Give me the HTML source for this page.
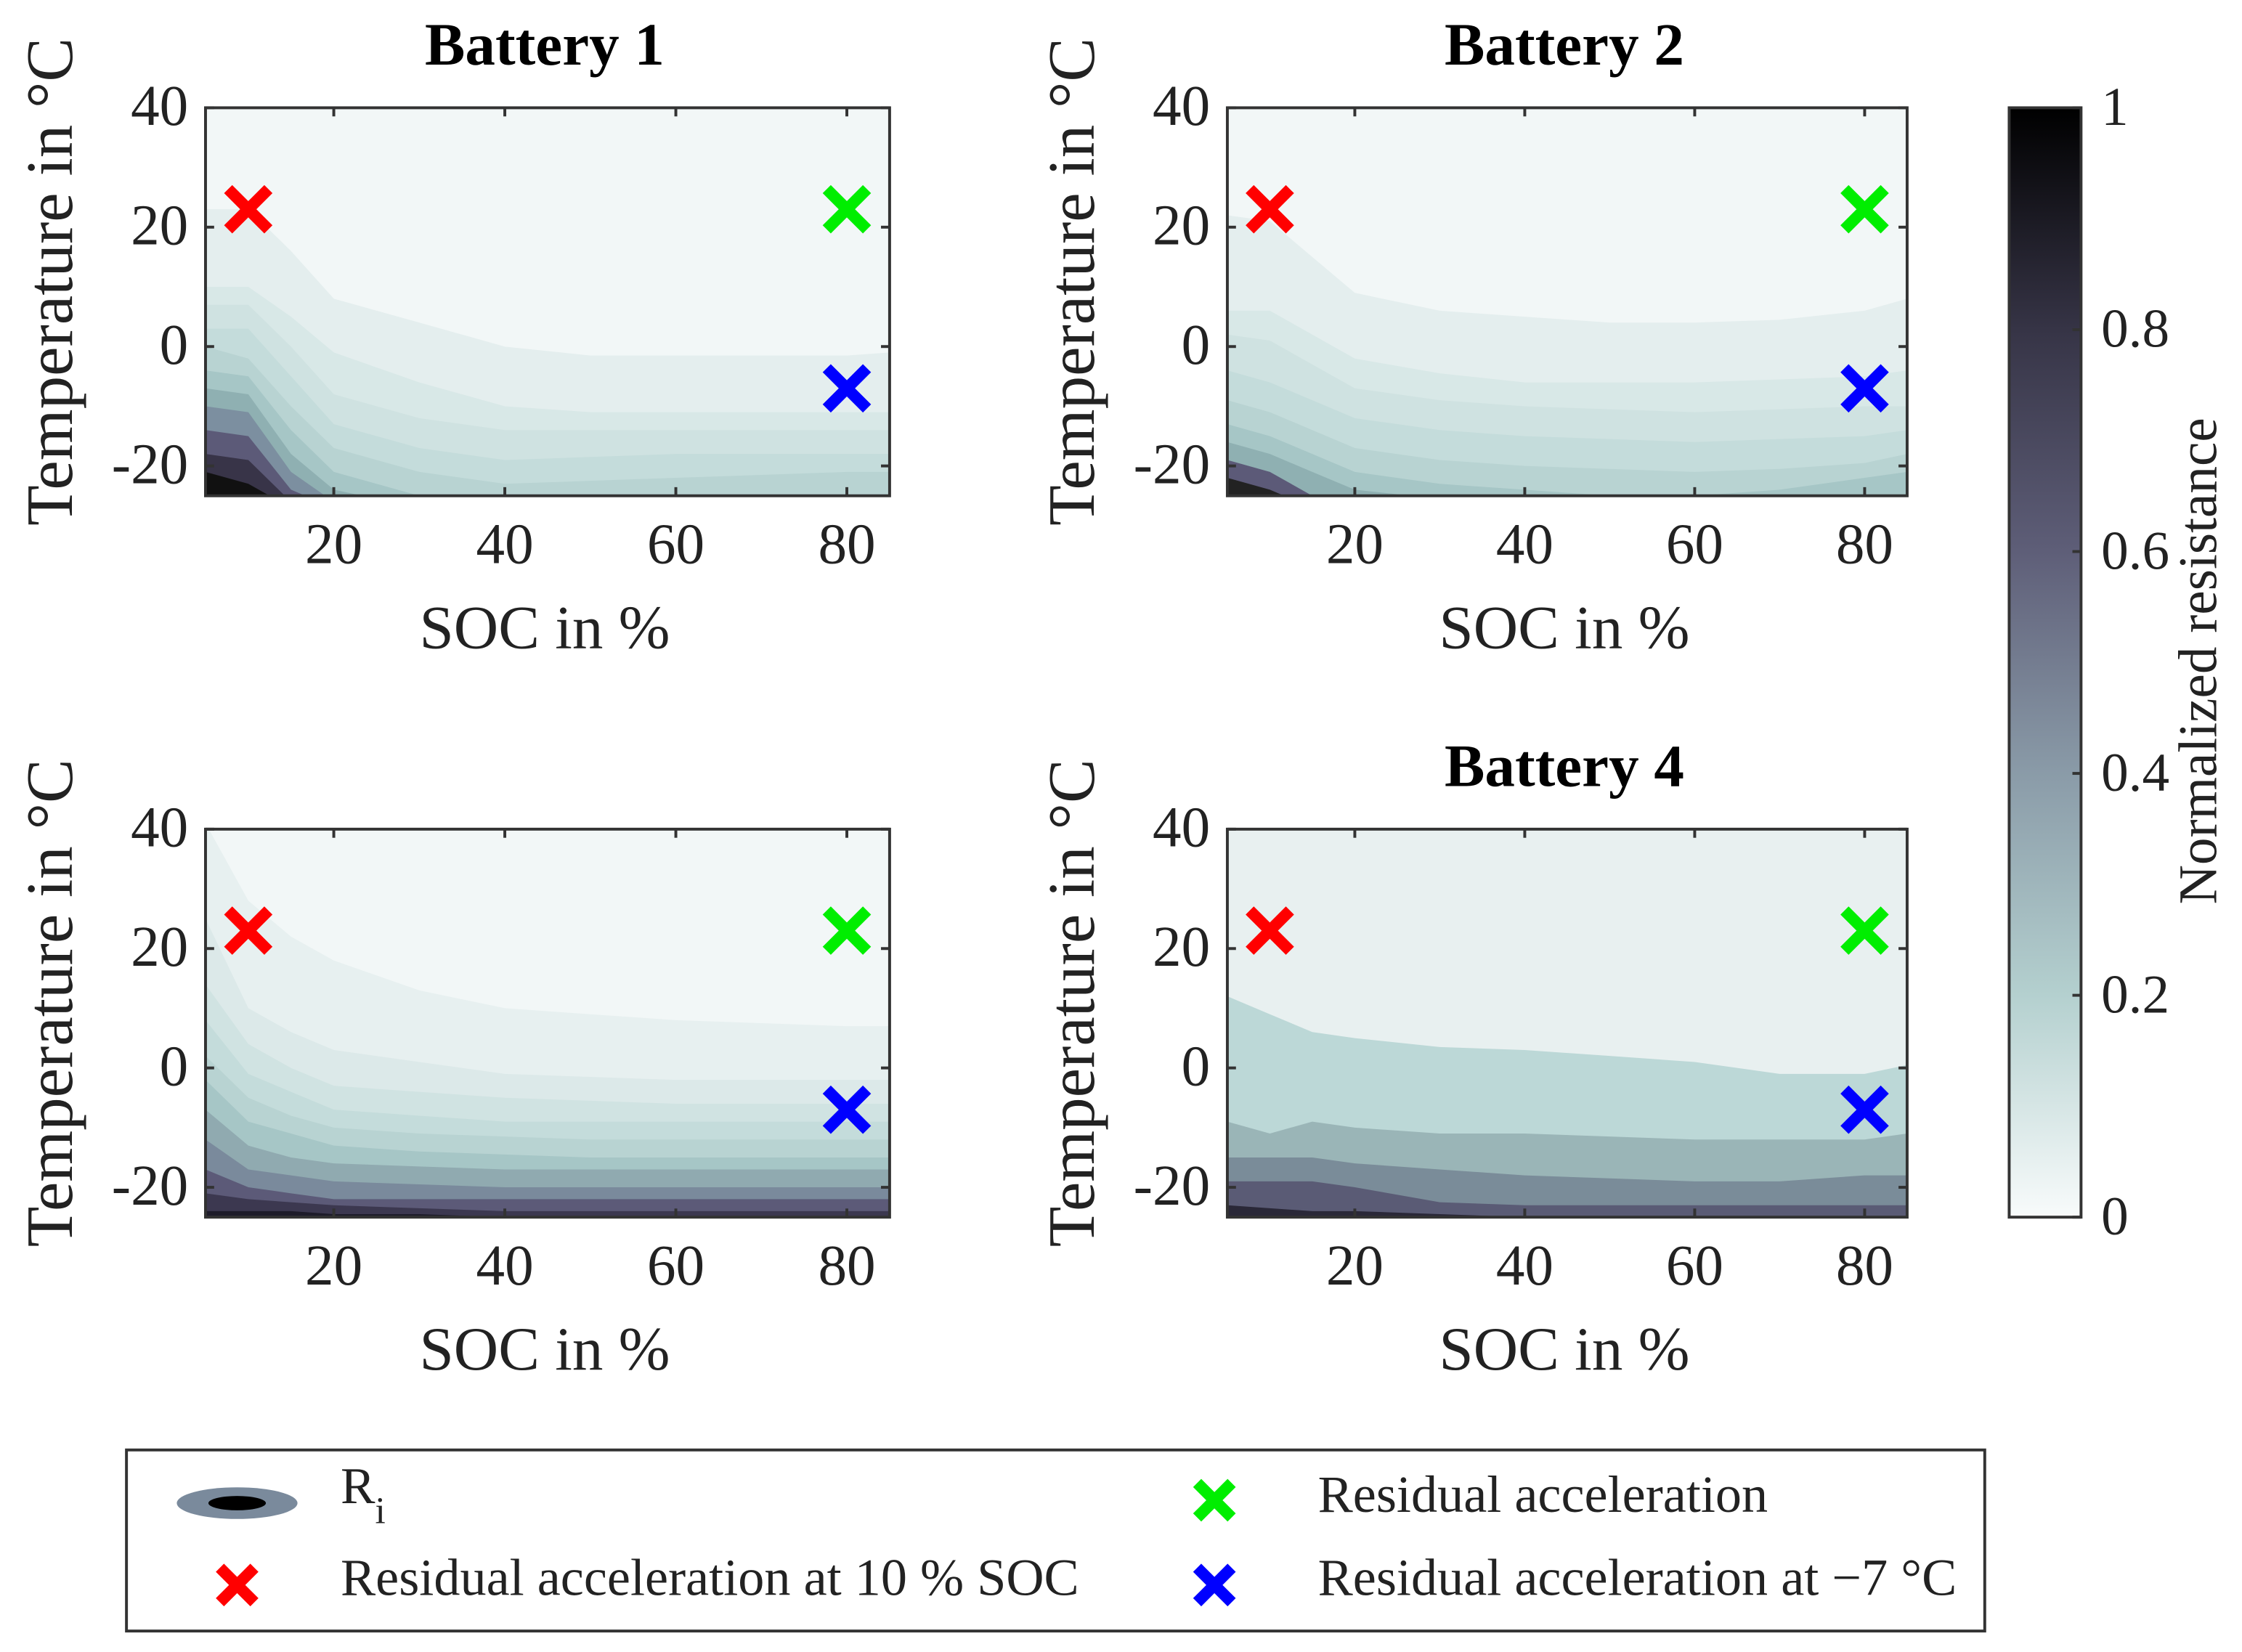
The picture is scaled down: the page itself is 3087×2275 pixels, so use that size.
<!DOCTYPE html>
<html><head><meta charset="utf-8"><style>
html,body{margin:0;padding:0;background:#fff}
svg{display:block}
text{font-family:"Liberation Serif",serif;fill:#222}
</style></head><body>
<svg id="fig" width="3087" height="2275" viewBox="0 0 1560 1149.6" preserveAspectRatio="none" xmlns="http://www.w3.org/2000/svg">
<defs>
<linearGradient id="cbg" x1="0" y1="1" x2="0" y2="0">
<stop offset="0" stop-color="#f8fbfb"/><stop offset="0.2" stop-color="#b4d0cf"/><stop offset="0.4" stop-color="#8a9ba8"/><stop offset="0.6" stop-color="#5e5e78"/><stop offset="0.8" stop-color="#363446"/><stop offset="1" stop-color="#000"/>
</linearGradient>
<clipPath id="c0"><rect x="143" y="75" width="476" height="270"/></clipPath>
<clipPath id="c1"><rect x="854" y="75" width="473" height="270"/></clipPath>
<clipPath id="c2"><rect x="143" y="577" width="476" height="270"/></clipPath>
<clipPath id="c3"><rect x="854" y="577" width="473" height="270"/></clipPath>
</defs>
</svg>
<script>
const socs=[5,10,15,20,30,40,50,60,70,80,85];
// band boundaries (temperature in °C at each SOC), fills painted top-down
const b1Bands=[[23,23,16,8,4,0,-1.5,-1.5,-1.5,-1.5,-1],[10,10,5,-1,-6,-10,-11,-11,-11,-11,-11],[7,7,0,-8,-12,-14,-14,-14,-14,-14,-14],[3,3,-5,-13,-17,-19,-18.5,-18,-18,-18,-18],[0,-2,-10,-17,-21,-23,-22.5,-22,-21.5,-21,-21],[-4,-5,-14,-21,-25,-26,-26,-26,-26,-26,-26],[-7,-8,-18,-24,-27,-27,-27,-27,-27,-27,-27],[-10,-11,-21,-26,-27,-27,-27,-27,-27,-27,-27],[-14,-15,-24,-27,-27,-27,-27,-27,-27,-27,-27],[-18,-19,-26,-27,-27,-27,-27,-27,-27,-27,-27],[-21,-23,-27,-27,-27,-27,-27,-27,-27,-27,-27]];
const b2Bands=[[22,21,15,9,6,5,4,4,4.5,6,8],[6,6,2,-2,-4.5,-6,-6,-6,-5.5,-5,-4],[2,1,-3,-7,-9,-10,-10.5,-11,-10.5,-10,-10],[-4,-6,-9,-12,-14,-15,-15.5,-16,-15.5,-15,-14],[-9,-11,-14,-17,-19,-20,-20.5,-21,-20.5,-19.5,-18],[-13,-15,-18,-21,-23,-24,-25,-25,-24,-22,-21],[-16,-18,-21,-24,-25.5,-27,-27,-27,-27,-27,-27],[-19,-21,-25,-27,-27,-27,-27,-27,-27,-27,-27],[-22,-24,-27,-27,-27,-27,-27,-27,-27,-27,-27]];
const b3Bands=[[41,28,22,18,13,10,9,8,7.5,7,7],[25,10,6,3,1,-1,-1.5,-2,-2,-2,-2],[14,4,0,-3,-4,-5,-5.5,-6,-6,-6,-6],[8,-1,-4,-7,-8,-9,-9,-9,-9,-9,-9],[2,-5,-8,-10,-11,-11.5,-12,-12,-12,-12,-12],[-2,-9,-11,-13,-14,-14.5,-15,-15,-15,-15,-15],[-7,-13,-15,-16,-16.5,-17,-17,-17,-17,-17,-17],[-12,-17,-18,-19,-19.5,-20,-20,-20,-20,-20,-20],[-17,-20,-21,-22,-22,-22,-22,-22,-22,-22,-22],[-21,-22,-22.5,-23,-23.5,-24,-24,-24,-24,-24,-24],[-24,-24,-24,-24.5,-24.5,-25,-25,-25,-25,-25,-25]];
const b4Bands=[[12,9,6,5,3.5,3,2,1,-1,-1,0.5],[-9,-11,-9,-10,-11,-11,-11.5,-12,-12,-12,-11],[-15,-15,-15,-16,-17,-18,-18.5,-19,-19,-18,-18],[-19,-19,-19,-20,-22.5,-23,-23,-23,-23,-23,-23],[-23,-23.5,-24,-24,-24.5,-25,-25,-25,-25,-25,-25]];
const markerSoc=[10,80,80];
const markerTemp=[23,23,-7];
const xTicks=[20,40,60,80];
const yTicks=[-20,0,20,40];
const cbTicks=[0,0.2,0.4,0.6,0.8,1];
const panels=[
 {name:'battery-1',title:'Battery 1',x:143,y:75,w:476,h:270,bg:'#f2f7f7',bands:b1Bands,cols:['#e4eeee','#d8e8e7','#cfe2e1','#c4dcdb','#b8d3d2','#a6c6c6','#8fb0b2','#7c8fa0','#5c5a78','#383448','#111']},
 {name:'battery-2',title:'Battery 2',x:854,y:75,w:473,h:270,bg:'#f2f7f7',bands:b2Bands,cols:['#e4eeee','#d8e8e7','#cfe2e1','#c4dcdb','#b8d3d2','#a6c6c6','#8fb0b2','#5c5a78','#222']},
 {name:'battery-3',title:'',x:143,y:577,w:476,h:270,bg:'#f2f7f7',bands:b3Bands,cols:['#e7f0f0','#dce9e9','#d0e3e2','#c4dcdb','#b8d3d2','#a6c6c6','#90aab0','#7a8a9c','#5c5a78','#3c3850','#1e1c2a']},
 {name:'battery-4',title:'Battery 4',x:854,y:577,w:473,h:270,bg:'#e8f0f0',bands:b4Bands,cols:['#bcd8d7','#9ab5b7','#7a8c99','#5a5b75','#2a2838']}
];
const NS='http://www.w3.org/2000/svg';
const svg=document.getElementById('fig');
function mk(tag,attrs,parent){const e=document.createElementNS(NS,tag);for(const k in attrs)e.setAttribute(k,attrs[k]);(parent||svg).appendChild(e);return e;}
function txt(s,attrs,parent){const e=mk('text',attrs,parent);e.textContent=s;return e;}
function cross(cx,cy,col,s,g){const p=mk('path',{d:`M${cx-s} ${cy-s}L${cx+s} ${cy+s}M${cx+s} ${cy-s}L${cx-s} ${cy+s}`,stroke:col,'stroke-width':8,fill:'none'},g);return p;}
panels.forEach((p,i)=>{
 const xs=v=>p.x+(v-5)/80*p.w, ys=v=>p.y+(40-v)/65*p.h;
 const g=mk('g',{});
 
 
 const pg=mk('g',{'clip-path':`url(#c${i})`},g);
 const bg=mk('rect',{x:p.x,y:p.y,width:p.w,height:p.h,fill:p.bg},pg);
 
 
 p.bands.forEach((b,k)=>{
  let d='M'+xs(5)+' '+(p.y+p.h+5);
  b.forEach((t,j)=>{d+=' L'+xs(socs[j]).toFixed(1)+' '+ys(t).toFixed(1);});
  d+=' L'+xs(85)+' '+(p.y+p.h+5)+'Z';
  const e=mk('path',{d:d,fill:p.cols[k]},pg);
  
  
 });
 const fr=mk('rect',{x:p.x,y:p.y,width:p.w,height:p.h,fill:'none',stroke:'#333','stroke-width':2},g);
 
 
 xTicks.forEach(v=>{
  mk('line',{x1:xs(v),x2:xs(v),y1:p.y+p.h,y2:p.y+p.h-6,stroke:'#333','stroke-width':2},g);
  mk('line',{x1:xs(v),x2:xs(v),y1:p.y,y2:p.y+6,stroke:'#333','stroke-width':2},g);
  const t=txt(String(v),{x:xs(v),y:p.y+p.h+47,'font-size':40,'text-anchor':'middle'},g);
  
  
 });
 yTicks.forEach(v=>{
  mk('line',{x1:p.x,x2:p.x+6,y1:ys(v),y2:ys(v),stroke:'#333','stroke-width':2},g);
  mk('line',{x1:p.x+p.w,x2:p.x+p.w-6,y1:ys(v),y2:ys(v),stroke:'#333','stroke-width':2},g);
  const t=txt(String(v),{x:p.x-12,y:ys(v)+12,'font-size':40,'text-anchor':'end'},g);
  
  
 });
 const cols=['#ff0000','#00ee00','#0000ff'];
 markerSoc.forEach((s,j)=>{
  const m=cross(xs(s),ys(markerTemp[j]),cols[j],14,g);
  
  
 });
 const xl=txt('SOC in %',{x:p.x+p.w/2-2,y:p.y+p.h+106,'font-size':43,'text-anchor':'middle'},g);
 
 
 const yx=p.x-93, yy=p.y+p.h/2-14;
 const yl=txt('Temperature in °C',{x:yx,y:yy,'font-size':46,'text-anchor':'middle',transform:`rotate(-90 ${yx} ${yy})`},g);
 
 
 if(p.title){
  const tt=txt(p.title,{x:p.x+p.w/2-2,y:p.y-30,'font-size':42,'font-weight':'bold','text-anchor':'middle'},g);
  
  
  tt.style.fill='#000';
 }
});
// colorbar
const cb=mk('g',{});


const cbx=1398,cby=75,cbw=50,cbh=772;
mk('rect',{x:cbx,y:cby,width:cbw,height:cbh,fill:'url(#cbg)',stroke:'#333','stroke-width':2},cb);
cbTicks.forEach(v=>{
 const y=cby+cbh-v*cbh;
 mk('line',{x1:cbx+cbw,x2:cbx+cbw-6,y1:y,y2:y,stroke:'#333','stroke-width':2},cb);
 const t=txt(String(v),{x:cbx+cbw+14,y:y+12,'font-size':38},cb);
 
 
});
const cl=txt('Normalized resistance',{x:1542,y:460,'font-size':38,'text-anchor':'middle',transform:'rotate(-90 1542 460)'},cb);


// legend
const lg=mk('g',{});


mk('rect',{x:88,y:1009,width:1293,height:126,fill:'#fff',stroke:'#333','stroke-width':2},lg);
const e1=mk('ellipse',{cx:165,cy:1046,rx:42,ry:11,fill:'#7a8a9c'},lg);


mk('ellipse',{cx:165,cy:1046,rx:20,ry:5,fill:'#000'},lg);
const r=txt('R',{x:237,y:1046,'font-size':36},lg);


txt('i',{x:261,y:1060,'font-size':26},lg);
const lm=[[165,1103,'#ff0000','Residual acceleration at 10 % SOC',237,1110],[845,1044,'#00ee00','Residual acceleration',917,1052],[845,1103,'#0000ff','Residual acceleration at −7 °C',917,1110]];
lm.forEach((m,j)=>{
 const c=cross(m[0],m[1],m[2],12,lg);
 
 
 const t=txt(m[3],{x:m[4],y:m[5],'font-size':36.5},lg);
 
 
});
</script>
</body></html>
